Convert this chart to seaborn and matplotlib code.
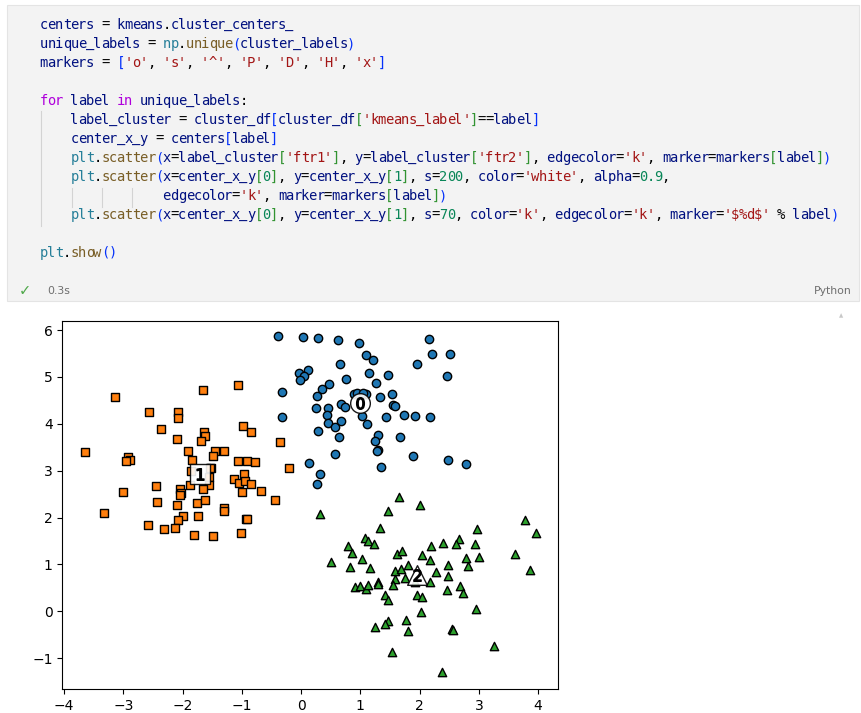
import re
import numpy as np
import pandas as pd
import matplotlib
matplotlib.use("Agg")
import matplotlib.pyplot as plt
import seaborn as sns
from matplotlib.patches import Rectangle
from matplotlib.lines import Line2D

# ---------------- data ----------------
ftr1_c0 = [-0.39, 0.03, 0.29, 0.62, 0.98, 2.16, 1.09, 1.22, 2.21, 2.51, 1.96, 0.65, 2.46,
           -0.04, 0.12, 0.05, -0.02, 1.15, 1.47, 0.76, 1.27, 0.47, 0.35, 0.27, -0.33, 0.89,
           1.09, 1.33, 1.53, 0.68, 0.74, 0.25, 0.45, 0.43, 1.55, 1.59, -0.33, 1.02, 1.43,
           1.74, 1.92, 2.18, 0.45, 0.58, 0.67, 1.11, 0.29, 0.64, 1.30, 1.24, 1.67, 1.29,
           1.28, 0.57, 1.89, 0.14, 0.32, 1.35, 2.48, 2.78, 0.27, 0.95, 1.05]
ftr2_c0 = [5.88, 5.85, 5.83, 5.78, 5.72, 5.81, 5.47, 5.36, 5.49, 5.49, 5.28, 5.28, 5.02,
           5.09, 5.14, 5.01, 4.94, 5.09, 5.04, 4.95, 4.87, 4.85, 4.74, 4.60, 4.68, 4.64,
           4.64, 4.57, 4.64, 4.42, 4.35, 4.33, 4.33, 4.18, 4.40, 4.39, 4.14, 4.16, 4.14,
           4.18, 4.16, 4.14, 4.01, 3.94, 4.06, 3.99, 3.85, 3.72, 3.76, 3.64, 3.72, 3.44,
           3.41, 3.35, 3.32, 3.16, 2.92, 3.08, 3.22, 3.14, 2.71, 4.66, 4.66]

ftr1_c1 = [-3.14, -1.65, -1.06, -2.57, -2.08, -2.08, -2.36, -2.10, -1.64, -1.63, -1.69,
           -0.98, -0.85, -0.36, -3.65, -2.92, -2.89, -2.95, -1.91, -1.45, -1.30, -1.49,
           -1.84, -1.06, -0.91, -0.78, -1.52, -1.86, -1.56, -1.14, -0.97, -1.05, -0.95,
           -0.85, -1.87, -1.55, -1.66, -1.00, -0.68, -0.44, -2.45, -3.00, -2.04, -2.03,
           -2.04, -2.43, -2.10, -1.76, -1.62, -1.30, -1.30, -3.32, -2.00, -2.08, -1.74,
           -0.93, -0.91, -2.58, -2.31, -2.13, -1.81, -1.49, -1.01, -0.20, -1.53]
ftr2_c1 = [4.57, 4.72, 4.82, 4.25, 4.25, 4.13, 3.88, 3.67, 3.82, 3.75, 3.63, 3.96, 3.83,
           3.61, 3.40, 3.29, 3.23, 3.21, 3.42, 3.41, 3.42, 3.31, 3.23, 3.21, 3.21, 3.19,
           3.05, 3.00, 2.86, 2.82, 2.93, 2.73, 2.78, 2.72, 2.70, 2.70, 2.61, 2.55, 2.57,
           2.37, 2.67, 2.54, 2.61, 2.53, 2.49, 2.33, 2.26, 2.30, 2.38, 2.21, 2.13, 2.09,
           2.03, 1.94, 2.03, 1.97, 1.96, 1.84, 1.75, 1.77, 1.63, 1.61, 1.66, 3.05, 3.05]

ftr1_c2 = [1.65, 2.00, 0.32, 1.46, 3.78, 3.97, 1.33, 2.97, 1.08, 1.13, 1.23, 0.79, 0.86,
           2.19, 2.40, 2.67, 2.62, 2.94, 1.62, 1.70, 2.04, 2.17, 2.78, 3.00, 3.61, 0.51,
           1.03, 0.82, 1.16, 1.81, 2.48, 2.82, 3.87, 1.58, 1.68, 2.27, 2.48, 1.58, 1.75,
           2.18, 1.55, 1.30, 1.29, 0.91, 1.00, 1.10, 1.13, 2.68, 2.46, 2.73, 1.42, 1.46,
           1.96, 2.04, 2.95, 2.03, 1.77, 1.47, 1.41, 1.25, 1.81, 2.54, 2.56, 3.26, 1.54,
           2.38, 1.92]
ftr2_c2 = [2.43, 2.26, 2.07, 2.13, 1.95, 1.66, 1.78, 1.76, 1.57, 1.50, 1.44, 1.39, 1.25,
           1.40, 1.45, 1.55, 1.44, 1.43, 1.23, 1.29, 1.19, 1.09, 1.14, 1.15, 1.22, 1.05,
           1.11, 0.95, 0.93, 0.98, 0.98, 0.97, 0.88, 0.86, 0.91, 0.83, 0.76, 0.69, 0.70,
           0.63, 0.55, 0.63, 0.58, 0.51, 0.53, 0.48, 0.55, 0.53, 0.45, 0.38, 0.35, 0.23,
           0.35, 0.31, 0.04, -0.02, -0.19, -0.21, -0.27, -0.34, -0.43, -0.38, -0.40, -0.74,
           -0.87, -1.30, 0.62]

center_x = [0.99, -1.71, 1.95]
center_y = [4.44, 2.93, 0.78]
cluster_ids = [0, 1, 2]
markers = ['o', 's', '^', 'P', 'D', 'H', 'x']
colors = sns.color_palette("tab10", 3)

xticks = [-4, -3, -2, -1, 0, 1, 2, 3, 4]
yticks = [-1, 0, 1, 2, 3, 4, 5, 6]

code_lines = [
    "centers = kmeans.cluster_centers_",
    "unique_labels = np.unique(cluster_labels)",
    "markers = ['o', 's', '^', 'P', 'D', 'H', 'x']",
    "",
    "for label in unique_labels:",
    "    label_cluster = cluster_df[cluster_df['kmeans_label']==label]",
    "    center_x_y = centers[label]",
    "    plt.scatter(x=label_cluster['ftr1'], y=label_cluster['ftr2'], edgecolor='k', marker=markers[label])",
    "    plt.scatter(x=center_x_y[0], y=center_x_y[1], s=200, color='white', alpha=0.9,",
    "                edgecolor='k', marker=markers[label])",
    "    plt.scatter(x=center_x_y[0], y=center_x_y[1], s=70, color='k', edgecolor='k', marker='$%d$' % label)",
    "",
    "plt.show()",
]

df = pd.DataFrame({
    "ftr1": ftr1_c0 + ftr1_c1 + ftr1_c2,
    "ftr2": ftr2_c0 + ftr2_c1 + ftr2_c2,
    "kmeans_label": [0] * len(ftr1_c0) + [1] * len(ftr1_c1) + [2] * len(ftr1_c2),
})

# ---------------- figure ----------------
W, H = 862, 713
fig = plt.figure(figsize=(W / 100, H / 100), dpi=100)
fig.patch.set_facecolor("white")

def fx(px):
    return px / W

def fy(py):
    return 1 - py / H

# code cell background
fig.patches.append(Rectangle((fx(7), fy(301)), fx(852), 296 / H, transform=fig.transFigure,
                             facecolor="#f3f3f3", edgecolor="#e4e4e4", lw=0.8, zorder=0))

# indentation guides
for (x0, y0, y1) in [(41, 111, 226), (72, 188, 207), (102, 188, 207), (132, 188, 207)]:
    fig.lines.append(Line2D([fx(x0), fx(x0)], [fy(y0), fy(y1)], transform=fig.transFigure,
                            color="#d3d3d3", lw=0.8))

VAR = "#001080"; FUNC = "#795E26"; CLS = "#267F99"; STR = "#A31515"
NUM = "#098658"; KW = "#AF00DB"; OP = "#000000"
BRC = ["#0431FA", "#319331", "#7B3814"]

token_re = re.compile(r"('[^']*')|(\d+\.?\d*)|([A-Za-z_]\w*)|([\[\]\(\)])|(\s+)|(.)")
depth = 0
char_w = 7.68
x_start = 40
for i, line in enumerate(code_lines):
    base = 29 + 19 * i
    for m in token_re.finditer(line):
        tok = m.group(0)
        col = m.start()
        if m.group(5):
            continue
        if m.group(1):
            c = STR
        elif m.group(2):
            c = NUM
        elif m.group(3):
            if tok in ("for", "in"):
                c = KW
            elif tok in ("np", "plt"):
                c = CLS
            elif line[m.end():m.end() + 1] == "(":
                c = FUNC
            else:
                c = VAR
        elif m.group(4):
            if tok in "([":
                c = BRC[depth % 3]
                depth += 1
            else:
                depth -= 1
                c = BRC[depth % 3]
        else:
            c = OP
        for k, ch in enumerate(tok):
            fig.text(fx(x_start + (col + k + 0.5) * char_w), fy(base), ch, color=c,
                     fontsize=9.9, family="DejaVu Sans Mono", va="baseline", ha="center",
                     parse_math=False)

# status row
fig.text(fx(19), fy(291), "\u2713", color="#4fa84a", fontsize=10.5, va="center", ha="left")
fig.text(fx(47), fy(291), "0.3s", color="#6e6e6e", fontsize=7.8, va="center", ha="left")
fig.text(fx(852), fy(291), "Python", color="#6e6e6e", fontsize=7.8, va="center", ha="right")
fig.text(fx(841), fy(316), "\u25B2", color="#c8c8c8", fontsize=4, va="center", ha="center")

# ---------------- plot ----------------
ax = fig.add_axes([fx(62.3), fy(689), 496 / W, 368.3 / H])
for lab in cluster_ids:
    sub = df[df["kmeans_label"] == lab]
    sns.scatterplot(x=sub["ftr1"].to_numpy(), y=sub["ftr2"].to_numpy(), ax=ax,
                    color=colors[lab], edgecolor="k", marker=markers[lab], s=36,
                    linewidth=1.0, legend=False)
    sns.scatterplot(x=[center_x[lab]], y=[center_y[lab]], ax=ax, s=200, color="white",
                    alpha=0.9, edgecolor="k", marker=markers[lab], linewidth=1.0, legend=False)
    sns.scatterplot(x=[center_x[lab]], y=[center_y[lab]], ax=ax, s=70, color="k",
                    edgecolor="k", marker="$%d$" % lab, linewidth=1.0, legend=False)

ax.set_xlim(-4.03, 4.34)
ax.set_ylim(-1.66, 6.20)
ax.set_xticks(xticks)
ax.set_yticks(yticks)
ax.set_xlabel("")
ax.set_ylabel("")
ax.tick_params(labelsize=10)

fig.savefig("out.png", dpi=100)
